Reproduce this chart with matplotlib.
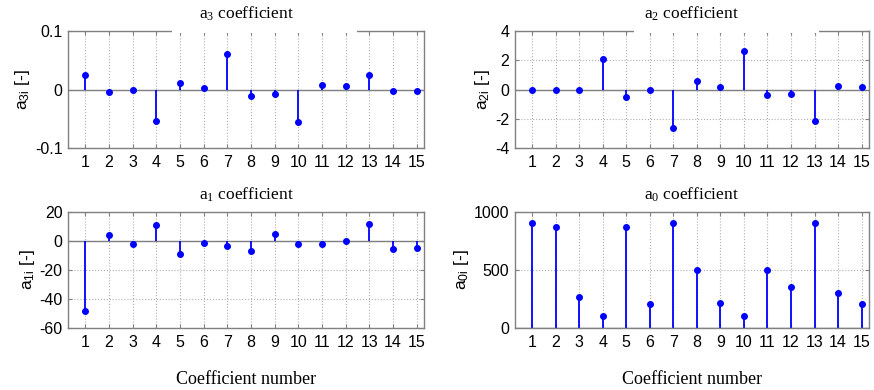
import numpy as np
import matplotlib
matplotlib.use("Agg")
import matplotlib.pyplot as plt
from matplotlib.patches import Rectangle

plt.rcParams['font.family'] = ['Liberation Sans', 'DejaVu Sans']
plt.rcParams['axes.unicode_minus'] = False

coef_num = list(range(1, 16))
a3 = [0.0245, -0.005, 0.0, -0.053, 0.011, 0.002, 0.061, -0.011, -0.007, -0.055, 0.008, 0.006, 0.0256, -0.003, -0.002]
a2 = [0.0, 0.0, 0.0, 2.11, -0.48, 0.0, -2.64, 0.55, 0.18, 2.66, -0.39, -0.34, -2.16, 0.27, 0.2]
a1 = [-48.6, 4.3, -2.3, 11.2, -8.9, -1.8, -3.6, -6.8, 4.6, -2.5, -2.1, 0.0, 11.9, -5.5, -4.8]
a0 = [905, 872, 265, 102, 872, 210, 905, 502, 212, 102, 502, 352, 905, 302, 205]

panels = [
    dict(vals=a3, title='a$\\mathregular{_3}$ coefficient', ylabel='a$\\mathregular{_{3i}}$ [-]',
         ylim=(-0.1, 0.1), yticks=[-0.1, 0, 0.1], ytl=['-0.1', '0', '0.1'],
         pos=[0.078, 0.6205, 0.407, 0.300], gap=(0.292, 0.812), xlabel=False),
    dict(vals=a2, title='a$\\mathregular{_2}$ coefficient', ylabel='a$\\mathregular{_{2i}}$ [-]',
         ylim=(-4, 4), yticks=[-4, -2, 0, 2, 4], ytl=['-4', '-2', '0', '2', '4'],
         pos=[0.589, 0.6205, 0.405, 0.300], gap=(0.338, 0.859), xlabel=False),
    dict(vals=a1, title='a$\\mathregular{_1}$ coefficient', ylabel='a$\\mathregular{_{1i}}$ [-]',
         ylim=(-60, 20), yticks=[-60, -40, -20, 0, 20], ytl=['-60', '-40', '-20', '0', '20'],
         pos=[0.078, 0.159, 0.407, 0.298], gap=None, xlabel=True),
    dict(vals=a0, title='a$\\mathregular{_0}$ coefficient', ylabel='a$\\mathregular{_{0i}}$ [-]',
         ylim=(0, 1000), yticks=[0, 500, 1000], ytl=['0', '500', '1000'],
         pos=[0.589, 0.159, 0.405, 0.298], gap=None, xlabel=True),
]

fig = plt.figure(figsize=(8.74, 3.9), dpi=100)
serif = ['Liberation Serif', 'DejaVu Serif']
for p in panels:
    ax = fig.add_axes(p['pos'])
    ax.set_xlim(0.27, 15.3)
    ax.set_ylim(*p['ylim'])
    ax.grid(True, linestyle=':', color='#b0b0b0', linewidth=0.8)
    ax.set_axisbelow(True)
    ml, sl, bl = ax.stem(coef_num, p['vals'], basefmt=' ')
    plt.setp(sl, color='#0000ff', linewidth=1.3)
    plt.setp(ml, color='#0000ff', markersize=4)
    ax.axhline(0, color='#808080', linewidth=1.0, zorder=1.5)
    ax.set_xticks(coef_num)
    ax.set_xticklabels([str(c) for c in coef_num])
    ax.set_yticks(p['yticks'])
    ax.set_yticklabels(p['ytl'])
    ax.tick_params(direction='in', length=3, color='#808080', labelsize=11.5,
                   top=True, right=True, pad=4)
    ax.tick_params(axis='x', pad=5)
    for s in ax.spines.values():
        s.set_color('#808080')
        s.set_linewidth(1.0)
    ax.set_ylabel(p['ylabel'], fontsize=12.5, labelpad=2)
    ax.set_title(p['title'], family=serif, fontsize=12.5, pad=9)
    if p['gap'] is not None:
        g0, g1 = p['gap']
        ax.add_patch(Rectangle((g0, 0.985), g1 - g0, 0.04, transform=ax.transAxes,
                               facecolor='white', edgecolor='none', clip_on=False, zorder=5))
    if p['xlabel']:
        ax.set_xlabel('Coefficient number', family=serif, fontsize=13, labelpad=15)

fig.savefig('out.png', dpi=100)
